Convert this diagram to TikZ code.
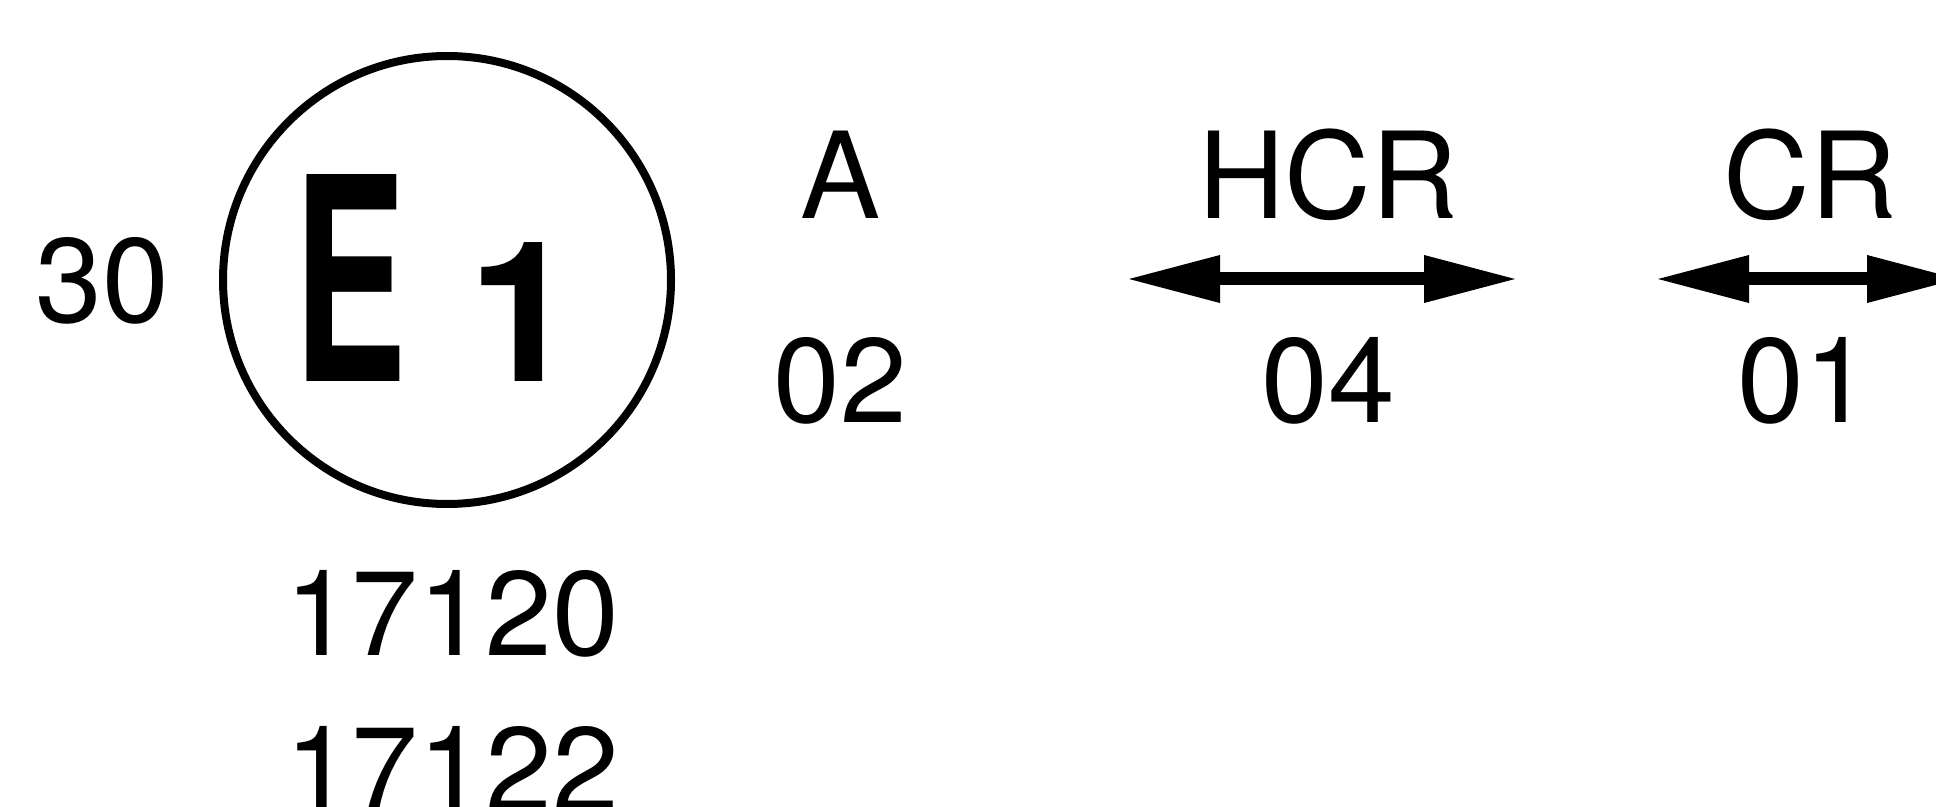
\documentclass[tikz,border=0pt]{standalone}
\usepackage{fontspec}
\setmainfont{TeX Gyre Heros}
\usetikzlibrary{arrows.meta}
\tikzset{
  lbl/.style={anchor=base, inner sep=0pt, font=\fontsize{60}{60}\selectfont},
  bigE/.style={anchor=base, inner sep=0pt, font=\bfseries\fontsize{142}{142}\selectfont},
  bigone/.style={anchor=base, inner sep=0pt, font=\bfseries\fontsize{98}{98}\selectfont},
  ring/.style={draw, circle, line width=4pt, minimum size=224pt, inner sep=0pt},
  dbl/.style={line width=6.5pt,
    {Triangle[length=47pt,width=22pt]}-{Triangle[length=47pt,width=22pt]}},
}
\begin{document}
\begin{tikzpicture}[x=0.5pt,y=-0.5pt]
  \useasboundingbox (0,0) rectangle (1936,807);
  \clip (0,0) rectangle (1936,807);
  \node[ring] (mark) at (447,280) {};
  \node[bigE] (e) at (350,381) {\scalebox{0.6}[1]{E}};
  \node[bigone] (one) at (523,381) {1};
  \node[lbl] (n30) at (102,322) {30};
  \node[lbl] (a) at (841,219) {A};
  \node[lbl] (n02) at (840,422) {02};
  \node[lbl] (n17120) at (452,655) {17120};
  \node[lbl] (n17122) at (452,811) {17122};
  \node[lbl] (hcr) at (1328,219) {HCR};
  \node[lbl] (n04) at (1328,422) {04};
  \node[lbl] (cr) at (1810,219) {CR};
  \node[lbl] (n01) at (1804,422) {01};
  \coordinate (hcrL) at (1126,279);
  \coordinate (hcrR) at (1518,279);
  \coordinate (crL) at (1655,279);
  \coordinate (crR) at (1961,279);
  \begin{scope}[dbl]
    \draw (hcrL) -- (hcrR);
    \draw (crL) -- (crR);
  \end{scope}
\end{tikzpicture}
\end{document}
